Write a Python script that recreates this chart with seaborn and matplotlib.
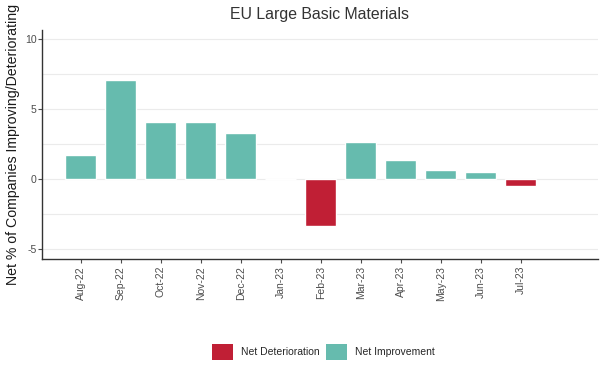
import matplotlib
matplotlib.use("Agg")
import matplotlib.pyplot as plt
import seaborn as sns
import pandas as pd
from matplotlib.patches import Patch
from matplotlib.ticker import MultipleLocator

months = ["Aug-22", "Sep-22", "Oct-22", "Nov-22", "Dec-22", "Jan-23",
          "Feb-23", "Mar-23", "Apr-23", "May-23", "Jun-23", "Jul-23"]
values = [1.75, 7.07, 4.07, 4.07, 3.3, 0.0, -3.34, 2.64, 1.36, 0.67, 0.48, -0.5]
series_names = ["Net Deterioration", "Net Improvement"]
colors = ["#C01F35", "#66BBAE"]

df = pd.DataFrame({"month": months, "value": values})
df["kind"] = [series_names[0] if v < 0 else series_names[1] for v in values]

sns.set_theme(style="white")
plt.rcParams['font.family'] = ['Liberation Sans', 'DejaVu Sans']
plt.rcParams['axes.unicode_minus'] = False

fig = plt.figure(figsize=(6.05, 3.78), dpi=100)
ax = fig.add_axes([42/605, 1-259/378, (598-42)/605, (259-30)/378])

sns.barplot(data=df, x="month", y="value", hue="kind", hue_order=series_names,
            palette=dict(zip(series_names, colors)), dodge=False, width=0.78,
            legend=False, ax=ax, saturation=1)

ax.set_xlim(-0.97, 12.93)
ax.set_ylim(-5.7, 10.65)
ax.yaxis.set_major_locator(MultipleLocator(5))
ax.yaxis.set_minor_locator(MultipleLocator(2.5))
ax.grid(True, which="both", axis="y", color="#EBEBEB", linewidth=0.8)
ax.set_axisbelow(True)
for s in ["top", "right"]:
    ax.spines[s].set_visible(False)
for s in ["left", "bottom"]:
    ax.spines[s].set_color("#333333")
    ax.spines[s].set_linewidth(1.0)

ax.tick_params(axis="x", rotation=90, labelsize=7.5, colors="#4D4D4D", length=3,
               pad=2, bottom=True, width=0.8)
ax.tick_params(axis="y", labelsize=7.6, colors="#4D4D4D", length=2.8, pad=1.2,
               left=True, width=0.8)
ax.tick_params(axis="y", which="minor", left=False)
for lbl in ax.get_xticklabels() + ax.get_yticklabels():
    lbl.set_color("#4D4D4D")
ax.set_xlabel("")
ax.set_ylabel("Net % of Companies Improving/Deteriorating", fontsize=10.2,
              color="#1A1A1A")
ax.yaxis.set_label_coords(-0.04, 0.502)

fig.text(320/605, 1-14/378, "EU Large Basic Materials", ha="center", va="center",
         fontsize=11.4, color="#333333")

handles = [Patch(facecolor=c, edgecolor="none") for c in colors]
fig.legend(handles, series_names, loc="center", bbox_to_anchor=(323/605, 1-352/378),
           ncol=2, frameon=False, fontsize=7.5, handlelength=2.1, handleheight=2.1,
           columnspacing=0.6, handletextpad=0.7)

fig.savefig("out.png", dpi=100)
